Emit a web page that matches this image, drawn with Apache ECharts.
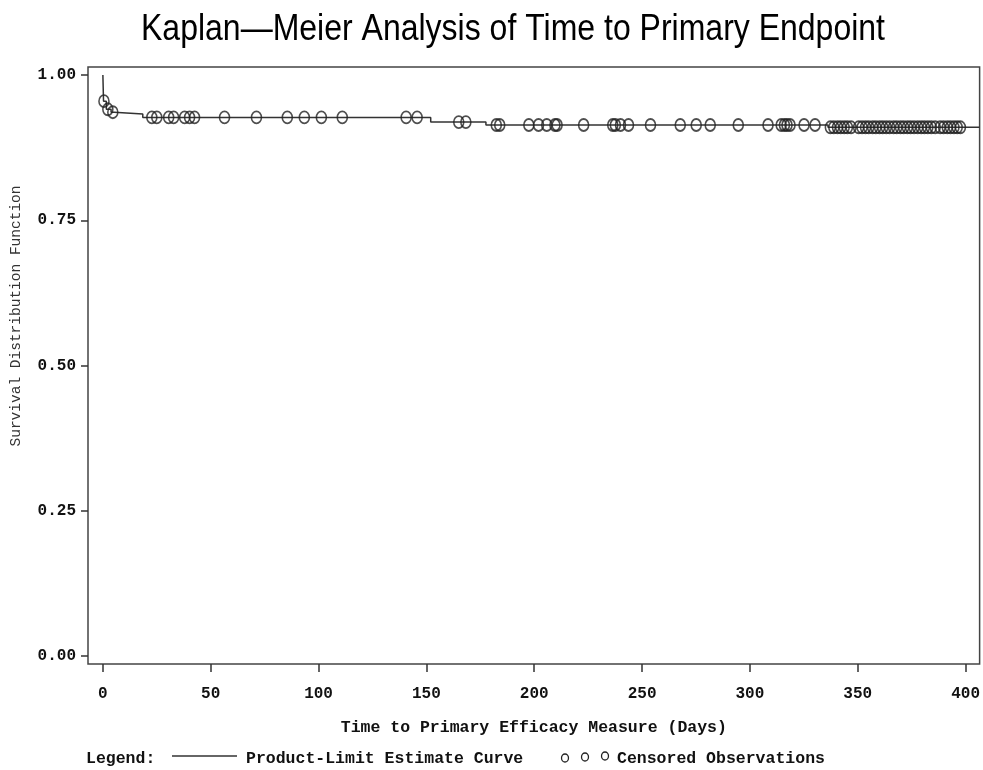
<!DOCTYPE html>
<html>
<head>
<meta charset="utf-8">
<script src="https://cdn.jsdelivr.net/npm/echarts@6/dist/echarts.min.js"></script>
</head>
<body style="margin:0;background:#fff">
<div id="container" style="width:983px;height:770px"></div>
<script>
// days at which the estimate drops, and the estimate from that day on
var stepDays = [0, 0.3, 1.6, 3.8, 5.2, 18.5, 152, 177.6, 336.2];
var stepSurv = [1.0, 0.955, 0.941, 0.936, 0.933, 0.927, 0.919, 0.914, 0.910];
// censored observations (days)
var censorDays = [0.5, 2.3, 4.6,
    22.7, 25, 30.5, 32.8, 37.9, 40.2, 42.5, 56.4, 71.2, 85.5, 93.4, 101.3, 111, 140.6, 145.7,
    165, 168.3,
    182.4, 184, 197.5, 202, 205.8, 209.6, 210.6, 222.9, 236.4, 237.6, 240, 243.7, 253.9,
    267.7, 275.1, 281.6, 294.6, 308.4, 314.5, 316, 317.2, 318.6, 325.1, 330.2,
    337.3, 338.9, 340.6, 342.1, 343.7, 345.2, 346.9,
    350.4, 352, 353.6, 355.1, 356.9, 358.4, 360.1, 361.6, 363.2, 364.8, 366.6, 368.1,
    369.8, 371.3, 373, 374.5, 376.1, 377.8, 379.4, 380.9, 382.5, 384.1, 385.9, 388.2,
    389.8, 391.5, 393, 394.6, 396.1, 397.6];
var xTicks = [0, 50, 100, 150, 200, 250, 300, 350, 400];
var yTicks = [0, 0.25, 0.5, 0.75, 1];

var xMin = -6.9, xMax = 406.5;
var mono = "'Liberation Mono', 'DejaVu Sans Mono', monospace";

var curveData = [];
for (var i = 0; i < stepDays.length; i++) {
    curveData.push([stepDays[i], stepSurv[i]]);
}
curveData.push([xMax, stepSurv[stepSurv.length - 1]]);

function survAt(t) {
    var s = stepSurv[0];
    for (var i = 0; i < stepDays.length; i++) {
        if (stepDays[i] <= t) s = stepSurv[i];
    }
    return s;
}
var censorData = censorDays.map(function (t) { return [t, survAt(t)]; });

var myChart = echarts.init(document.getElementById('container'));
var option = {
    animation: false,
    backgroundColor: '#fff',
    grid: {
        left: 88, top: 67, width: 894, height: 597,
        show: true, borderColor: '#444', borderWidth: 1.5, backgroundColor: 'transparent'
    },
    xAxis: {
        type: 'value', min: xMin, max: xMax,
        axisLine: { show: false, onZero: false },
        splitLine: { show: false },
        axisTick: { show: true, customValues: xTicks, length: 8, lineStyle: { color: '#333', width: 1.5 } },
        axisLabel: {
            customValues: xTicks, margin: 22,
            fontFamily: mono, fontWeight: 'bold', fontSize: 16, color: '#111'
        },
        name: 'Time to Primary Efficacy Measure (Days)',
        nameLocation: 'middle', nameGap: 55,
        nameTextStyle: { fontFamily: mono, fontWeight: 'bold', fontSize: 16.5, color: '#111' }
    },
    yAxis: {
        type: 'value', min: -0.0138, max: 1.0138,
        axisLine: { show: false, onZero: false },
        splitLine: { show: false },
        axisTick: { show: true, customValues: yTicks, length: 7, lineStyle: { color: '#333', width: 1.5 } },
        axisLabel: {
            customValues: yTicks, margin: 12,
            fontFamily: mono, fontWeight: 'bold', fontSize: 16, color: '#111',
            formatter: function (v) { return v.toFixed(2); }
        }
    },
    graphic: [
        {
            type: 'text', x: 513, y: 30, scaleY: 1.15,
            style: {
                text: 'Kaplan\u2014Meier Analysis of Time to Primary Endpoint',
                fontFamily: "'Liberation Sans', Arial, sans-serif", fontSize: 32,
                fill: '#000', textAlign: 'center', textVerticalAlign: 'middle'
            }
        },
        {
            type: 'text', x: 16, y: 316, rotation: Math.PI / 2,
            style: {
                text: 'Survival Distribution Function',
                fontFamily: mono, fontSize: 14.5, fill: '#333',
                textAlign: 'center', textVerticalAlign: 'middle'
            }
        },
        {
            type: 'text', x: 86, y: 759,
            style: { text: 'Legend:', fontFamily: mono, fontWeight: 'bold', fontSize: 16.5, fill: '#111', textVerticalAlign: 'middle' }
        },
        {
            type: 'line', shape: { x1: 172, y1: 756, x2: 237, y2: 756 },
            style: { stroke: '#333', lineWidth: 1.5 }
        },
        {
            type: 'text', x: 246, y: 759,
            style: { text: 'Product-Limit Estimate Curve', fontFamily: mono, fontWeight: 'bold', fontSize: 16.5, fill: '#111', textVerticalAlign: 'middle' }
        },
        { type: 'ellipse', shape: { cx: 565, cy: 758, rx: 3.5, ry: 4 }, style: { fill: 'none', stroke: '#222', lineWidth: 1.3 } },
        { type: 'ellipse', shape: { cx: 585, cy: 757, rx: 3.5, ry: 4 }, style: { fill: 'none', stroke: '#222', lineWidth: 1.3 } },
        { type: 'ellipse', shape: { cx: 605, cy: 756, rx: 3.5, ry: 4 }, style: { fill: 'none', stroke: '#222', lineWidth: 1.3 } },
        {
            type: 'text', x: 617, y: 759,
            style: { text: 'Censored Observations', fontFamily: mono, fontWeight: 'bold', fontSize: 16.5, fill: '#111', textVerticalAlign: 'middle' }
        }
    ],
    series: [
        {
            type: 'line', name: 'Product-Limit Estimate Curve',
            data: curveData, step: 'end', showSymbol: false,
            lineStyle: { color: '#333', width: 1.5 }, z: 2
        },
        {
            type: 'scatter', name: 'Censored Observations',
            data: censorData, symbol: 'circle', symbolSize: [10, 12],
            itemStyle: { color: 'none', borderColor: '#222', borderWidth: 1.7 }, z: 3
        }
    ]
};
myChart.setOption(option);
</script>
</body>
</html>
